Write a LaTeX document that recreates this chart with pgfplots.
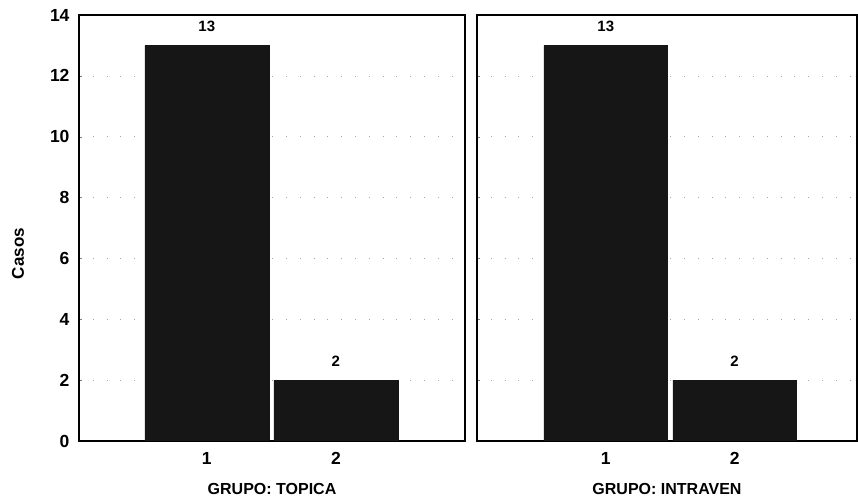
\documentclass[border=0pt]{standalone}
\usepackage{fontspec}
\setmainfont{Liberation Sans}
\usepackage{pgfplots}
\pgfplotsset{compat=1.18}
\definecolor{barfill}{HTML}{161616}
\pgfplotsset{
  panel/.style={
    scale only axis,
    height=426pt,
    ymin=0, ymax=14,
    ytick={0,2,...,14},
    xtick={1,2},
    ybar, bar width=0.96, bar shift=0pt,
    axis line style={line width=1.2pt, black},
    major tick length=3pt,
    tick align=inside,
    xtick style={draw=none},
    ytick pos=left,
    ymajorgrids,
    major grid style={gray!70, line width=0.7pt, dash pattern=on 0.8pt off 13pt},
    /pgf/number format/assume math mode=true,
    ticklabel style={font=\fontsize{17.5}{19}\selectfont\bfseries},
    xticklabel style={yshift=-8pt},
    yticklabel style={xshift=-6pt},
    xlabel style={font=\fontsize{16}{18}\selectfont\bfseries, at={(axis description cs:0.5,-0.112)}, anchor=center},
    ylabel style={font=\fontsize{17}{19}\selectfont\bfseries},
    nodes near coords,
    every node near coord/.style={font=\fontsize{15}{17}\selectfont\bfseries, anchor=center, yshift=19pt, /pgf/number format/assume math mode=true},
  }
}
\begin{document}
\begin{tikzpicture}[x=1pt,y=1pt]
\useasboundingbox (0,0) rectangle (858,500);
\begin{axis}[panel,
  at={(79pt,59pt)}, anchor=south west,
  width=386pt, xmin=0.01, xmax=3.0,
  xlabel={GRUPO: TOPICA},
  ylabel={Casos},
  ylabel style={at={(axis description cs:-0.158,0.44)}, anchor=center, rotate=0},
]
\addplot[fill=barfill, draw=barfill] coordinates {(1,13) (2,2)};
\end{axis}
\begin{axis}[panel,
  at={(477pt,59pt)}, anchor=south west,
  width=380pt, xmin=0.0, xmax=2.95,
  yticklabels={},
  xlabel={GRUPO: INTRAVEN},
]
\addplot[fill=barfill, draw=barfill] coordinates {(1,13) (2,2)};
\end{axis}
\end{tikzpicture}
\end{document}
